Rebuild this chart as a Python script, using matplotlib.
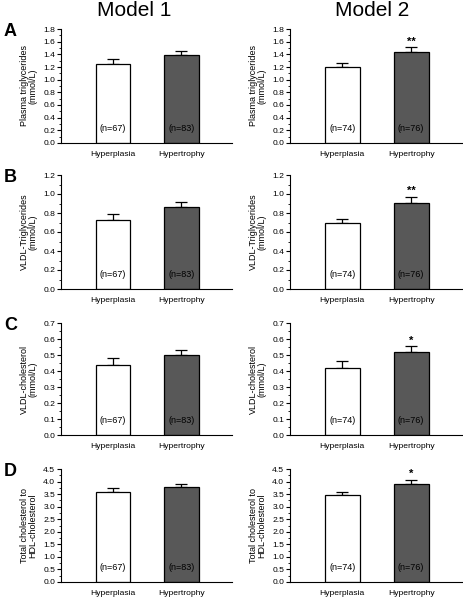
import matplotlib
matplotlib.use("Agg")
import matplotlib.pyplot as plt
from matplotlib.ticker import MultipleLocator
import matplotlib.transforms as mtransforms

plt.rcParams['font.family'] = ['Liberation Sans', 'DejaVu Sans']

categories = ["Hyperplasia", "Hypertrophy"]
panel_letters = ["A", "B", "C", "D"]
ylabels = ["Plasma triglycerides\n(mmol/L)",
           "VLDL-Triglycerides\n(mmol/L)",
           "VLDL-cholesterol\n(mmol/L)",
           "Total cholesterol to\nHDL-cholesterol"]
ymax = [1.8, 1.2, 0.7, 4.5]
ystep = [0.2, 0.2, 0.1, 0.5]

# Model 1 values (mean, upper SE)
m1_means = [[1.25, 1.39], [0.73, 0.86], [0.44, 0.50], [3.60, 3.78]]
m1_err = [[0.07, 0.06], [0.06, 0.06], [0.04, 0.03], [0.13, 0.14]]
m1_n = ["(n=67)", "(n=83)"]
# Model 2 values
m2_means = [[1.20, 1.44], [0.69, 0.91], [0.42, 0.52], [3.47, 3.92]]
m2_err = [[0.07, 0.07], [0.05, 0.06], [0.04, 0.035], [0.12, 0.15]]
m2_n = ["(n=74)", "(n=76)"]
m2_sig = [["", "**"], ["", "**"], ["", "*"], ["", "*"]]

models = ["Model 1", "Model 2"]
bar_colors = ["white", "#585858"]

W, H = 463, 598
fig = plt.figure(figsize=(W / 100, H / 100), dpi=100)

tops = [29, 175, 323, 469]
bottoms = [143, 289, 435, 582]
lefts = [61, 290]
rights = [232, 462]

for col in range(2):
    means = m1_means if col == 0 else m2_means
    errs = m1_err if col == 0 else m2_err
    ns = m1_n if col == 0 else m2_n
    for row in range(4):
        x0 = lefts[col] / W
        w = (rights[col] - lefts[col]) / W
        y0 = 1 - bottoms[row] / H
        h = (bottoms[row] - tops[row]) / H
        ax = fig.add_axes([x0, y0, w, h])
        xs = [0, 1]
        ax.bar(xs, means[row], width=0.51, color=bar_colors, edgecolor="black",
               linewidth=0.9, zorder=2)
        ax.errorbar(xs, means[row], yerr=[[0, 0], errs[row]], fmt="none",
                    ecolor="black", elinewidth=0.9, capsize=4.5, capthick=0.9,
                    zorder=1)
        ax.set_xlim(-0.76, 1.74)
        ax.set_ylim(0, ymax[row])
        ax.yaxis.set_major_locator(MultipleLocator(ystep[row]))
        ax.yaxis.set_minor_locator(MultipleLocator(ystep[row] / 2))
        ax.yaxis.set_major_formatter(matplotlib.ticker.FormatStrFormatter('%.1f'))
        ax.set_xticks(xs)
        ax.set_xticklabels(categories, fontsize=6.1)
        ax.tick_params(axis='x', length=0, pad=5.5)
        ax.tick_params(axis='y', which='major', length=3, width=0.8,
                       labelsize=6.1, pad=1.2)
        ax.tick_params(axis='y', which='minor', length=1.5, width=0.6)
        for s in ["top", "right"]:
            ax.spines[s].set_visible(False)
        for s in ["left", "bottom"]:
            ax.spines[s].set_linewidth(0.8)
        ax.set_ylabel(ylabels[row], fontsize=6.5, labelpad=4, linespacing=1.0)
        trans = mtransforms.blended_transform_factory(ax.transData, ax.transAxes)
        for i in range(2):
            ax.text(xs[i], 0.13, ns[i], transform=trans, ha="center",
                    va="center", fontsize=6.5, zorder=3)
        if col == 1:
            for i in range(2):
                if m2_sig[row][i]:
                    ax.text(xs[i], means[row][i] + errs[row][i] + ymax[row] * 0.005,
                            m2_sig[row][i], ha="center", va="bottom",
                            fontsize=8, fontweight="bold")
        if col == 0:
            fig.text(4 / W, 1 - (tops[row] + 3) / H, panel_letters[row],
                     fontsize=13, fontweight="bold", ha="left", va="center")

fig.text(134 / W, 1 - 10 / H, models[0], fontsize=15, ha="center", va="center")
fig.text(372 / W, 1 - 10 / H, models[1], fontsize=15, ha="center", va="center")

fig.savefig("out.png", dpi=100)
